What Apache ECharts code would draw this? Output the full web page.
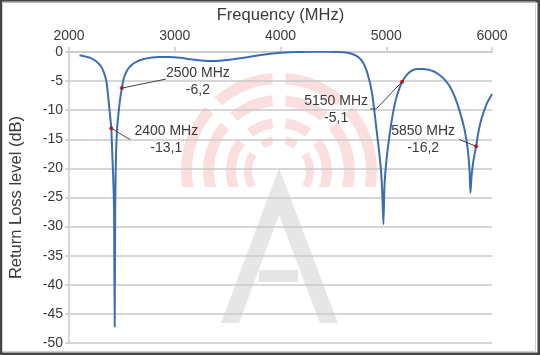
<!DOCTYPE html>
<html>
<head>
<meta charset="utf-8">
<script src="https://cdn.jsdelivr.net/npm/echarts@6/dist/echarts.min.js"></script>
<style>
html,body{margin:0;padding:0;background:#fff;}
#c{width:540px;height:355px;}
</style>
</head>
<body>
<div id="c"></div>
<script>
// ---- data ----
const xTicks = [2000, 3000, 4000, 5000, 6000];
const yTicks = [0, -5, -10, -15, -20, -25, -30, -35, -40, -45, -50];
const freq = [2100, 2150, 2200, 2250, 2300, 2330, 2355, 2375, 2390, 2400, 2408, 2418, 2426, 2432,
  2437, 2441, 2446, 2455, 2470, 2485, 2500, 2517, 2540, 2565, 2600, 2645, 2700, 2770, 2850, 2950,
  3050, 3150, 3250, 3350, 3450, 3550, 3650, 3750, 3850, 3950, 4050, 4150, 4250, 4350, 4450, 4550,
  4620, 4670, 4710, 4750, 4780, 4810, 4830, 4850, 4870, 4890, 4910, 4930, 4950, 4962, 4973,
  4982, 4990, 5000, 5020, 5050, 5080, 5110, 5150, 5200, 5250, 5300, 5350, 5400, 5450, 5500, 5550,
  5600, 5650, 5700, 5740, 5770, 5788, 5796, 5806, 5820, 5835, 5850, 5870, 5900, 5950, 6000];
const rl = [-0.55, -0.75, -1.0, -1.5, -2.4, -3.5, -5.2, -8.5, -11.2, -13.1, -17, -21.5, -27, -47.2,
  -27, -21, -16.8, -13.1, -10.2, -7.9, -6.2, -4.6, -3.5, -2.75, -2.1, -1.6, -1.25, -1.0, -0.88, -0.88,
  -1.0, -1.25, -1.45, -1.55, -1.45, -1.25, -1.0, -0.7, -0.42, -0.2, -0.07, 0, 0.05, 0.05, 0.05, 0,
  -0.1, -0.3, -0.6, -1.1, -1.8, -3.0, -4.2, -5.6, -7.6, -10.5, -13.6, -16.7, -20.3, -24, -29.6,
  -23.5, -21, -19, -15.8, -12, -9.0, -7.0, -5.1, -3.8, -3.1, -2.9, -2.9, -3.05, -3.35, -3.9, -4.7,
  -5.9, -7.8, -10.5, -13.3, -16.6, -20.5, -24.2, -21.5, -19.2, -17.6, -16.2, -13.9, -11.5, -8.9, -7.2];
const annoFreq = [2400, 2500, 5150, 5850];
const annoVal = [-13.1, -6.2, -5.1, -16.2];

// ---- layout of annotations (pixel offsets from the marked point) ----
const annoLabelOff = [[55, 11.5], [76, -6], [-66, 28.3], [-53, -6.3]];
const annoLineEnd = [[[19, 11.5]], [[44, -9]], [[-26, 27.3], [-32, 27.3]], [[-16.7, -6.7]]];

const chart = echarts.init(document.getElementById('c'), null, {renderer: 'canvas'});
const txt = '#3a3a3a';
const gridCol = '#cacaca';
const fam = '"Liberation Sans", Arial';
chart.setOption({
  animation: false,
  grid: {left: 69, right: 48, top: 52, bottom: 12},
  xAxis: {
    type: 'value', position: 'top',
    min: xTicks[0], max: xTicks[xTicks.length - 1], interval: xTicks[1] - xTicks[0],
    name: 'Frequency (MHz)', nameLocation: 'middle', nameGap: 25,
    nameTextStyle: {fontFamily: fam, fontSize: 16.5, color: txt},
    axisLine: {show: true, lineStyle: {color: gridCol, width: 1.5}},
    axisTick: {show: true, length: 5, lineStyle: {color: gridCol, width: 1.5}},
    axisLabel: {fontFamily: fam, fontSize: 14, color: txt, margin: 9, formatter: v => String(v)},
    splitLine: {show: false}
  },
  yAxis: {
    type: 'value',
    min: yTicks[yTicks.length - 1], max: yTicks[0], interval: yTicks[0] - yTicks[1],
    name: 'Return Loss level (dB)', nameLocation: 'middle', nameGap: 44, nameRotate: 90,
    nameTextStyle: {fontFamily: fam, fontSize: 16.5, color: txt},
    axisLine: {show: true, lineStyle: {color: gridCol, width: 1.5}},
    axisTick: {show: true, length: 4, lineStyle: {color: gridCol, width: 1.5}},
    axisLabel: {fontFamily: fam, fontSize: 14, color: txt, margin: 6, formatter: v => String(v)},
    splitLine: {show: true, lineStyle: {color: gridCol, width: 1.5}}
  },
  series: [{
    type: 'line',
    data: freq.map((f, i) => [f, rl[i]]),
    showSymbol: false, symbol: 'none',
    smooth: 0.2,
    lineStyle: {color: '#3b6db4', width: 2},
    z: 3
  }, {
    type: 'scatter',
    data: annoFreq.map((f, i) => [f, annoVal[i]]),
    symbolSize: 4,
    itemStyle: {color: '#d00000'},
    z: 5
  }]
});

// ---- watermark + frame + annotations ----
const g = [];
const cx = 279, cy = 171;
const rings = [[87, 98], [65, 76], [43, 53], [27, 35]];
const wm = '#fbdede';
rings.forEach(([r0, r]) => {
  const half = Math.asin(6.5 / ((r0 + r) / 2)) * 180 / Math.PI;
  const segs = [[-30, 45 - half], [45 + half, 90 - half], [90 + half, 135 - half], [135 + half, 210]];
  segs.forEach(([a1, a2]) => {
    g.push({type: 'sector', silent: true, z: -5,
      shape: {cx, cy, r0, r, startAngle: -a2 * Math.PI / 180, endAngle: -a1 * Math.PI / 180, clockwise: true},
      style: {fill: wm}});
  });
});
g.push({type: 'rect', silent: true, z: -4, shape: {x: 170, y: 187, width: 220, height: 40}, style: {fill: '#fff'}});
const ag = '#e6e6e6';
g.push({type: 'polygon', silent: true, z: -3, shape: {points: [[279, 168], [221, 323], [239, 323], [279, 215]]}, style: {fill: ag}});
g.push({type: 'polygon', silent: true, z: -3, shape: {points: [[279, 168], [338, 323], [320, 323], [279, 215]]}, style: {fill: ag}});
g.push({type: 'rect', silent: true, z: -3, shape: {x: 259, y: 270, width: 39, height: 12}, style: {fill: ag}});

annoFreq.forEach((f, i) => {
  const p = chart.convertToPixel({xAxisIndex: 0, yAxisIndex: 0}, [f, annoVal[i]]);
  const pts = [p].concat(annoLineEnd[i].map(o => [p[0] + o[0], p[1] + o[1]]));
  g.push({type: 'polyline', silent: true, z: 4, shape: {points: pts}, style: {stroke: '#404040', lineWidth: 1, fill: null}});
  g.push({type: 'text', silent: true, z: 6,
    x: p[0] + annoLabelOff[i][0], y: p[1] + annoLabelOff[i][1],
    style: {text: f + ' MHz\n' + String(annoVal[i]).replace('.', ','), fill: txt,
      font: '14px ' + fam, align: 'center', verticalAlign: 'middle', lineHeight: 17}});
});

g.push({type: 'rect', silent: true, z: 20, shape: {x: 0, y: 0, width: 540, height: 355},
  style: {fill: null, stroke: '#454545', lineWidth: 5}});
g.push({type: 'rect', silent: true, z: 20, shape: {x: 2.5, y: 2, width: 533, height: 349.5},
  style: {fill: null, stroke: '#cfcfcf', lineWidth: 1}});

chart.setOption({graphic: g});
</script>
</body>
</html>
